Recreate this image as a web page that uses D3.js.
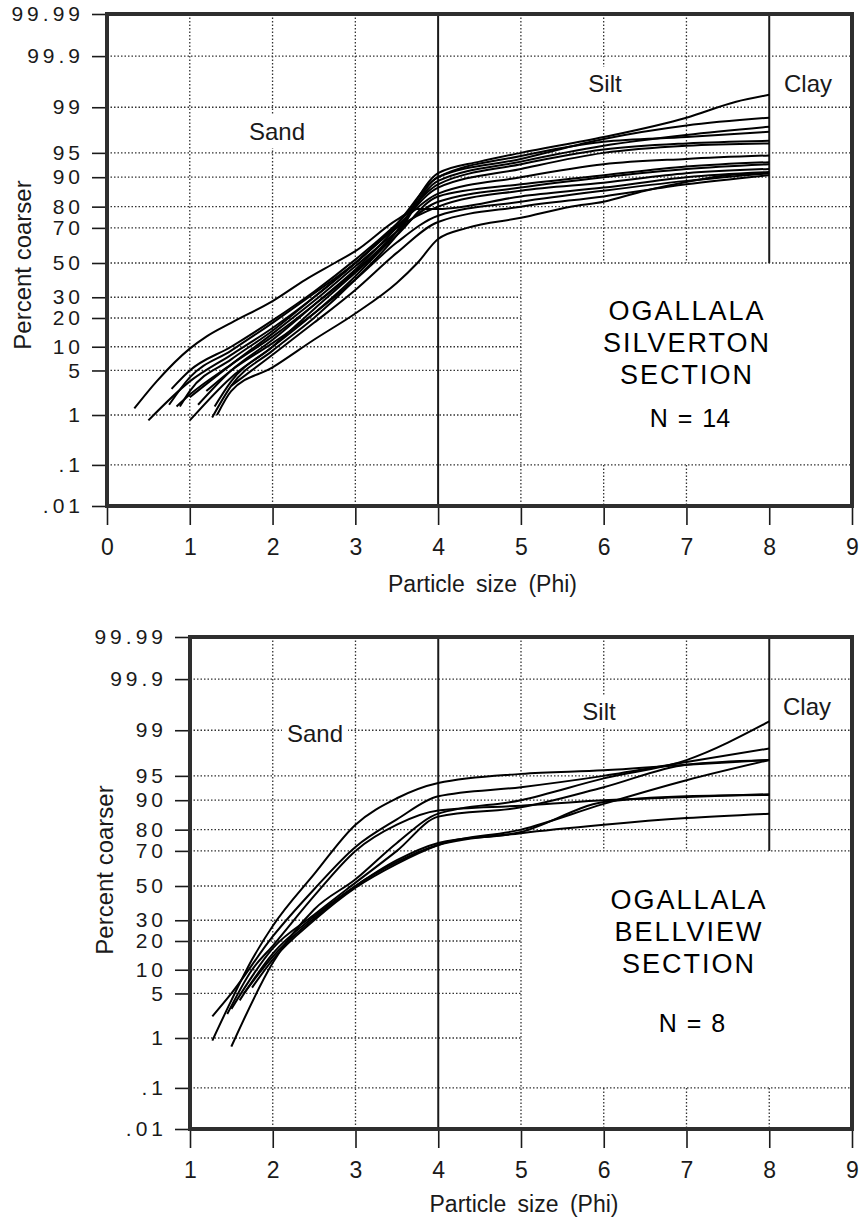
<!DOCTYPE html>
<html>
<head>
<meta charset="utf-8">
<script src="https://cdn.jsdelivr.net/npm/d3@7"></script>
<style>
  body { margin: 0; background: #fff; }
  svg { display: block; font-family: "Liberation Sans", Arial, sans-serif; }
</style>
</head>
<body>
<svg id="chart" width="860" height="1221"></svg>
<script>
// y axis ticks (percent coarser, probability scale)
const yTicks = [0.01, 0.1, 1, 5, 10, 20, 30, 50, 70, 80, 90, 95, 99, 99.9, 99.99]
const yTickLabels = [".01", ".1", "1", "5", "10", "20", "30", "50", "70", "80", "90", "95", "99", "99.9", "99.99"]

// x axis ticks (phi)
const xTicksSilverton = [0, 1, 2, 3, 4, 5, 6, 7, 8, 9]
const xTicksBellview = [1, 2, 3, 4, 5, 6, 7, 8, 9]

// cumulative curves, [phi, percent coarser]
const silvertonCurves = [
  [[1.0,0.8],[1.5,4],[2,10],[2.5,22],[3,42],[3.5,68],[4,91],[4.5,93.5],[5,95],[6,97],[7,98.5],[7.6,99.2],[8,99.4]],
  [[1.27,0.9],[1.5,3],[2,9],[2.5,20],[3,40],[3.5,66],[4,90],[5,94],[6,96.8],[7,98],[8,98.5]],
  [[0.84,1.4],[1,2.2],[1.5,6],[2,13],[2.5,26],[3,45],[3.5,68],[4,89],[5,93.5],[6,96],[7,97.2],[8,97.9]],
  [[0.5,0.8],[1,3.5],[1.5,8],[2,16],[2.5,30],[3,50],[3.5,72],[4,90],[5,94.5],[6,96.5],[7,97],[8,97.5]],
  [[0.78,2.7],[1,5],[1.5,10],[2,19],[2.5,33],[3,52],[3.5,72],[4,88],[5,93],[6,95.5],[7,96.3],[8,96.6]],
  [[1.1,1.5],[1.5,5],[2,12],[2.5,26],[3,46],[3.5,70],[4,87],[5,92],[6,95],[7,96],[8,96.3]],
  [[0.88,1.4],[1,2.5],[1.5,7],[2,15],[2.5,30],[3,50],[3.5,71],[4,85],[5,90],[6,93],[7,94],[8,94.6]],
  [[1.3,1.4],[1.5,3.5],[2,10],[2.5,24],[3,44],[3.5,66],[4,84],[5,88],[6,90.5],[7,92.5],[8,93.4]],
  [[1.0,2],[1.5,6],[2,14],[2.5,28],[3,48],[3.5,68],[4,82],[5,87],[6,90],[7,92],[8,93]],
  [[0.75,1.5],[1,4],[1.5,9],[2,18],[2.5,32],[3,50],[3.5,70],[4,80],[5,86],[6,88.5],[7,91],[8,92]],
  [[0.33,1.3],[0.6,3.5],[1,9.5],[1.2,13],[1.5,18],[2,28],[2.4,40],[2.75,50],[3,57],[3.5,74],[3.75,79],[4,79],[5,84],[6,87],[7,90],[8,91.3]],
  [[1.2,2.5],[1.5,5],[2,11],[2.5,22],[3,40],[3.5,62],[4,76],[5,82],[6,86],[7,89],[8,91]],
  [[1.5,3],[2,8],[2.5,18],[3,34],[3.5,56],[4,73],[5,80],[6,84],[7,88],[8,90.5]],
  [[1.33,1.0],[1.5,2.5],[2,5.5],[2.5,12],[3,22],[3.5,38],[3.75,50],[4,64],[4.35,70],[5,75],[5.6,80],[6,82],[6.5,86],[7,88.7],[7.5,90.5],[8,91]]
]

const bellviewCurves = [
  [[1.27,0.9],[1.5,4],[1.75,13],[2,27],[2.5,57],[3,82],[3.5,90.5],[4,93.8],[5,95.3],[6,95.8],[7,96.5],[8,97]],
  [[1.27,2.3],[1.5,5],[2,22],[2.5,48],[3,72],[3.5,84],[4,91],[5,93],[6,95],[7,96.8],[8,98]],
  [[1.45,2.5],[1.75,10],[2,18],[2.5,44],[3,70],[3.5,82],[4,87],[5,88.5],[6,90],[7,90.8],[8,91.5]],
  [[1.5,0.7],[2,12],[2.5,36],[3,54],[3.5,74],[4,86],[5,90],[6,94.6],[7,97],[8,99.3]],
  [[1.5,3],[2,17],[2.5,33],[3,52],[3.5,70],[4,85],[5,88],[6,93],[7,96.5],[8,97]],
  [[1.6,4],[2,15],[2.5,32],[3,50],[3.5,65],[4,74],[5,79],[6,89.5],[7,91],[8,91.3]],
  [[1.65,5],[2,14],[2.5,31],[3,50],[3.5,64],[4,73],[5,78.5],[6,82],[7,84.5],[8,86]],
  [[1.75,6],[2,13],[2.5,30],[3,49],[3.5,63],[4,73],[5,80],[6,89],[7,94.3],[8,97]]
]

// inverse normal cdf (Acklam) for the probability axis
function probit(p) {
  const a = [-39.69683028665376, 220.9460984245205, -275.9285104469687, 138.357751867269, -30.66479806614716, 2.506628277459239]
  const b = [-54.47609879822406, 161.5858368580409, -155.6989798598866, 66.80131188771972, -13.28068155288572]
  const c = [-0.007784894002430293, -0.3223964580411365, -2.400758277161838, -2.549732539343734, 4.374664141464968, 2.938163982698783]
  const d = [0.007784695709041462, 0.3224671290700398, 2.445134137142996, 3.754408661907416]
  const lo = 0.02425
  let q, r
  if (p < lo) {
    q = Math.sqrt(-2 * Math.log(p))
    return (((((c[0]*q+c[1])*q+c[2])*q+c[3])*q+c[4])*q+c[5]) / ((((d[0]*q+d[1])*q+d[2])*q+d[3])*q+1)
  }
  if (p > 1 - lo) {
    q = Math.sqrt(-2 * Math.log(1 - p))
    return -(((((c[0]*q+c[1])*q+c[2])*q+c[3])*q+c[4])*q+c[5]) / ((((d[0]*q+d[1])*q+d[2])*q+d[3])*q+1)
  }
  q = p - 0.5
  r = q * q
  return (((((a[0]*r+a[1])*r+a[2])*r+a[3])*r+a[4])*r+a[5])*q / (((((b[0]*r+b[1])*r+b[2])*r+b[3])*r+b[4])*r+1)
}

const svg = d3.select("#chart")
const ink = "#1a1a1a"

function drawPanel(cfg) {
  const g = svg.append("g")

  const x = d3.scaleLinear().domain(cfg.xDomain).range([cfg.left, cfg.right])
  const z = d3.scaleLinear()
    .domain([probit(0.0001), 0, probit(0.9999)])
    .range([cfg.bottom, cfg.mid, cfg.top])
  const y = (p) => z(probit(p / 100))

  // grid
  const grid = g.append("g")
    .attr("stroke", "#333")
    .attr("stroke-width", 1.3)
    .attr("stroke-dasharray", "1.5,2")

  yTicks.filter(p => p > 0.01 && p < 99.99).forEach(p => {
    const cut = p < cfg.boxTop && p > 0.1
    grid.append("line")
      .attr("x1", cfg.left).attr("x2", cut ? x(5) : cfg.right)
      .attr("y1", y(p)).attr("y2", y(p))
  })

  const xs = d3.range(cfg.xDomain[0] + 1, cfg.xDomain[1])
  xs.forEach(v => {
    if (v === 4) return
    if (v === 6 || v === 7 || v === 8) {
      if (v !== 8) {
        grid.append("line")
          .attr("x1", x(v)).attr("x2", x(v))
          .attr("y1", cfg.top).attr("y2", y(cfg.boxTop))
      }
      if (v !== 8 || cfg.dot8) {
        grid.append("line")
          .attr("x1", x(v)).attr("x2", x(v))
          .attr("y1", y(0.1)).attr("y2", cfg.bottom)
      }
      return
    }
    grid.append("line")
      .attr("x1", x(v)).attr("x2", x(v))
      .attr("y1", cfg.top).attr("y2", cfg.bottom)
  })

  // sand / silt / clay boundaries
  g.append("line")
    .attr("x1", x(4)).attr("x2", x(4))
    .attr("y1", cfg.top).attr("y2", cfg.bottom)
    .attr("stroke", ink).attr("stroke-width", 2)
  g.append("line")
    .attr("x1", x(8)).attr("x2", x(8))
    .attr("y1", cfg.top).attr("y2", y(cfg.boxTop))
    .attr("stroke", ink).attr("stroke-width", 2)

  // class labels with white backing
  cfg.classLabels.forEach(l => {
    const t = g.append("text")
      .attr("x", l.x).attr("y", l.y)
      .attr("text-anchor", "middle")
      .attr("font-size", 24)
      .attr("fill", ink)
      .text(l.text)
    const bb = t.node().getBBox()
    g.insert("rect", () => t.node())
      .attr("x", bb.x - 5).attr("y", bb.y - 3)
      .attr("width", bb.width + 10).attr("height", bb.height + 6)
      .attr("fill", "#fff")
  })

  // curves
  const line = d3.line()
    .x(d => x(d[0]))
    .y(d => y(d[1]))
    .curve(d3.curveMonotoneX)

  g.append("g")
    .attr("fill", "none")
    .attr("stroke", "#000")
    .attr("stroke-width", 2)
    .attr("stroke-linejoin", "round")
    .selectAll("path")
    .data(cfg.curves)
    .join("path")
    .attr("d", line)

  // section title
  cfg.title.forEach((s, i) => {
    g.append("text")
      .attr("text-anchor", "middle")
      .attr("x", cfg.titleX).attr("y", cfg.titleY[i])
      .attr("font-size", 27)
      .attr("letter-spacing", 2)
      .attr("fill", "#000")
      .text(s)
  })
  g.append("text")
    .attr("text-anchor", "middle")
    .attr("x", cfg.titleX + 3).attr("y", cfg.nY)
    .attr("font-size", 25)
    .attr("word-spacing", 3)
    .attr("fill", "#000")
    .text(cfg.nText)

  // axes
  const yAxis = g.append("g")
    .attr("transform", `translate(${cfg.left},0)`)
    .call(d3.axisLeft(z)
      .tickValues(yTicks.map(p => probit(p / 100)))
      .tickFormat((d, i) => yTickLabels[i])
      .tickSize(15)
      .tickPadding(8))
  yAxis.select(".domain").remove()
  yAxis.selectAll("line").attr("stroke", ink).attr("stroke-width", 1.6)
  yAxis.selectAll("text")
    .attr("font-family", "Liberation Sans, Arial, sans-serif")
    .attr("font-size", 21)
    .attr("letter-spacing", 4)
    .attr("fill", ink)

  const xAxis = g.append("g")
    .attr("transform", `translate(0,${cfg.bottom})`)
    .call(d3.axisBottom(x)
      .tickValues(cfg.xTicks)
      .tickFormat(d3.format("d"))
      .tickSize(19)
      .tickPadding(14))
  xAxis.select(".domain").remove()
  xAxis.selectAll("line").attr("stroke", ink).attr("stroke-width", 1.6)
  xAxis.selectAll("text")
    .attr("font-family", "Liberation Sans, Arial, sans-serif")
    .attr("font-size", 23)
    .attr("fill", ink)

  // axis titles
  g.append("text")
    .attr("x", (cfg.left + cfg.right) / 2 + 3)
    .attr("y", cfg.xTitleY)
    .attr("text-anchor", "middle")
    .attr("font-size", 23)
    .attr("word-spacing", 5)
    .attr("fill", ink)
    .text("Particle size (Phi)")

  g.append("text")
    .attr("transform", `translate(${cfg.yTitleX},${cfg.yTitleCY}) rotate(-90)`)
    .attr("text-anchor", "middle")
    .attr("font-size", 24)
    .attr("fill", ink)
    .text("Percent coarser")

  // frame
  g.append("rect")
    .attr("x", cfg.left).attr("y", cfg.top)
    .attr("width", cfg.right - cfg.left)
    .attr("height", cfg.bottom - cfg.top)
    .attr("fill", "none")
    .attr("stroke", "#2e2e2e")
    .attr("stroke-width", 4)
}

drawPanel({
  left: 107, right: 852, top: 14, mid: 263, bottom: 506,
  xDomain: [0, 9], xTicks: xTicksSilverton,
  boxTop: 50, dot8: false,
  curves: silvertonCurves,
  classLabels: [
    { text: "Sand", x: 277, y: 140 },
    { text: "Silt", x: 605, y: 92 },
    { text: "Clay", x: 808, y: 92 }
  ],
  title: ["OGALLALA", "SILVERTON", "SECTION"],
  titleX: 687, titleY: [320, 352, 384],
  nText: "N = 14", nY: 427,
  xTitleY: 592, yTitleX: 31, yTitleCY: 265
})

drawPanel({
  left: 190, right: 852, top: 637, mid: 886, bottom: 1129,
  xDomain: [1, 9], xTicks: xTicksBellview,
  boxTop: 70, dot8: true,
  curves: bellviewCurves,
  classLabels: [
    { text: "Sand", x: 315, y: 742 },
    { text: "Silt", x: 599, y: 720 },
    { text: "Clay", x: 807, y: 715 }
  ],
  title: ["OGALLALA", "BELLVIEW", "SECTION"],
  titleX: 689, titleY: [909, 941, 973],
  nText: "N = 8", nY: 1032,
  xTitleY: 1212, yTitleX: 113, yTitleCY: 870
})
</script>
</body>
</html>
